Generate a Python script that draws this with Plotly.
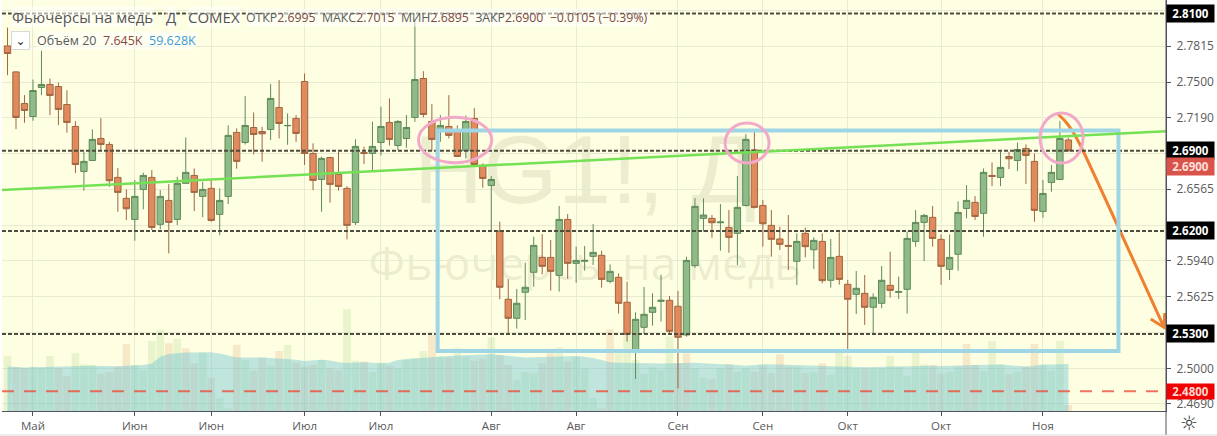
import plotly.graph_objects as go

bar_index = list(range(126))
open_prices = [
2.7817,2.7590,2.7314,2.7200,2.7454,2.7480,2.7462,2.7305,2.7113,2.6720,
2.6816,2.7008,2.6956,2.6668,2.6485,2.6301,2.6563,2.6668,2.6258,2.6467,
2.6301,2.6616,2.6685,2.6502,2.6572,2.6345,2.6502,2.7061,2.6973,2.7104,
2.7069,2.7087,2.7279,2.7119,2.7183,2.7506,2.6877,2.6650,2.6842,2.6694,
2.6572,2.6275,2.6886,2.6877,2.6973,2.7148,2.6947,2.7008,2.7192,2.7532,
2.7157,2.7069,2.7113,2.7069,2.6901,2.7183,2.6773,2.6598,2.6199,2.5603,
2.5437,2.5664,2.5839,2.5969,2.5969,2.5812,2.6301,2.5917,2.5935,2.5978,
2.5987,2.5760,2.5795,2.5577,2.5155,2.5358,2.5489,2.5585,2.5594,2.5542,
2.5291,2.5897,2.6310,2.6310,2.6272,2.6231,2.6179,2.6423,2.6909,2.6423,
2.6249,2.6130,2.6074,2.5935,2.6179,2.6036,2.6109,2.5769,2.5978,2.5734,
2.5646,2.5655,2.5533,2.5568,2.5725,2.5664,2.5690,2.6109,2.6275,2.6319,
2.6127,2.5865,2.5996,2.6397,2.6450,2.6354,2.6685,2.6668,2.6851,2.6816,
2.6921,2.6808,2.6371,2.6624,2.6650,2.6995]
close_prices = [
2.7750,2.7192,2.7253,2.7427,2.7480,2.7384,2.7262,2.7148,2.6781,2.6808,
2.7000,2.6956,2.6639,2.6537,2.6394,2.6502,2.6685,2.6231,2.6502,2.6275,
2.6616,2.6712,2.6537,2.6563,2.6292,2.6467,2.7035,2.6808,2.7122,2.7043,
2.7049,2.7358,2.7139,2.7122,2.7052,2.6877,2.6642,2.6834,2.6607,2.6589,
2.6249,2.6939,2.6877,2.6939,2.7113,2.7000,2.7157,2.7104,2.7523,2.7218,
2.7000,2.7122,2.7035,2.6851,2.7157,2.6781,2.6659,2.6650,2.5708,2.5437,
2.5568,2.5708,2.6074,2.5891,2.5847,2.6301,2.5917,2.5943,2.5943,2.6013,
2.5777,2.5847,2.5568,2.5297,2.5428,2.5472,2.5533,2.5594,2.5323,2.5271,
2.5943,2.6415,2.6339,2.6272,2.6278,2.6144,2.6406,2.7000,2.6406,2.6263,
2.6127,2.6083,2.6066,2.6109,2.6063,2.6118,2.5766,2.5969,2.5777,2.5603,
2.5699,2.5533,2.5620,2.5769,2.5681,2.5670,2.6135,2.6275,2.6336,2.6135,
2.5891,2.5969,2.6362,2.6467,2.6327,2.6712,2.6677,2.6755,2.6831,2.6912,
2.6860,2.6380,2.6528,2.6712,2.7008,2.6900]
high_prices = [
2.7977,2.7595,2.7387,2.7523,2.7774,2.7532,2.7497,2.7430,2.7160,2.6892,
2.7087,2.7186,2.6979,2.6749,2.6563,2.6645,2.6709,2.6732,2.6557,2.6610,
2.6674,2.7017,2.6746,2.6630,2.6645,2.6572,2.7122,2.7096,2.7378,2.7235,
2.7110,2.7483,2.7518,2.7227,2.7212,2.7576,2.6965,2.6848,2.6848,2.6892,
2.6592,2.7000,2.6936,2.7154,2.7285,2.7358,2.7168,2.7212,2.8041,2.7596,
2.7308,2.7212,2.7387,2.7122,2.7209,2.7273,2.6790,2.6680,2.6281,2.5780,
2.5693,2.5923,2.6150,2.6173,2.6121,2.6418,2.6348,2.6063,2.6068,2.6260,
2.6028,2.5908,2.5830,2.5757,2.5489,2.5710,2.5655,2.5818,2.5632,2.5676,
2.5975,2.6487,2.6485,2.6339,2.6435,2.6383,2.6680,2.7046,2.7067,2.6470,
2.6383,2.6237,2.6339,2.6179,2.6231,2.6144,2.6179,2.6130,2.6188,2.5772,
2.5850,2.5815,2.5655,2.5894,2.6019,2.5801,2.6194,2.6383,2.6348,2.6418,
2.6170,2.6170,2.6458,2.6601,2.6505,2.6746,2.6799,2.6907,2.6892,2.6973,
2.6956,2.6877,2.6645,2.6776,2.7160,2.7015]
low_prices = [
2.7561,2.7090,2.7145,2.7163,2.7387,2.7212,2.7125,2.7058,2.6706,2.6552,
2.6811,2.6907,2.6586,2.6368,2.6295,2.6115,2.6389,2.6208,2.6214,2.6004,
2.6252,2.6610,2.6374,2.6319,2.6281,2.6162,2.6435,2.6744,2.6956,2.6869,
2.6805,2.6994,2.7008,2.6953,2.6979,2.6776,2.6557,2.6368,2.6447,2.6552,
2.6127,2.6252,2.6784,2.6723,2.6860,2.6947,2.6907,2.6927,2.7154,2.7192,
2.6901,2.6979,2.7008,2.6845,2.6834,2.6761,2.6578,2.6208,2.5603,2.5291,
2.5347,2.5422,2.5713,2.5821,2.5678,2.5670,2.5783,2.5748,2.5853,2.5903,
2.5705,2.5743,2.5478,2.5233,2.4907,2.5300,2.5373,2.5408,2.5306,2.4826,
2.5277,2.5879,2.6194,2.6141,2.6028,2.6010,2.5903,2.6412,2.6397,2.6063,
2.5975,2.6034,2.5859,2.5728,2.5969,2.5868,2.5743,2.5705,2.5731,2.5160,
2.5475,2.5379,2.5306,2.5524,2.5617,2.5606,2.5478,2.6063,2.5937,2.6063,
2.5728,2.5772,2.5853,2.6310,2.6295,2.6150,2.6592,2.6592,2.6741,2.6723,
2.6610,2.6281,2.6316,2.6543,2.6645,2.6895]
volume_k = [
69.8,55.4,54.1,56.3,54.1,69.8,54.1,44.4,73.2,59.2,
58.4,47.0,49.9,56.3,85.0,58.4,52.0,88.8,102.8,85.9,
91.4,79.5,60.5,74.0,41.5,16.1,3.4,83.8,64.7,51.2,
66.8,57.5,76.1,83.8,61.3,56.3,58.4,64.7,54.1,52.0,
129.0,63.9,62.6,49.5,61.3,57.5,54.1,64.7,66.8,76.1,
96.4,68.9,68.1,79.5,68.9,63.5,66.4,93.1,71.1,58.4,
39.3,49.1,47.8,60.5,73.2,80.4,62.6,68.9,54.1,16.1,
3.4,103.6,73.2,96.4,64.7,47.0,55.4,52.0,94.3,60.5,
73.2,54.1,42.3,40.2,54.1,59.6,49.9,54.1,49.9,57.5,
47.8,71.9,56.3,56.3,47.8,49.1,60.5,45.7,74.0,69.8,
54.1,54.1,54.1,54.1,69.8,56.3,44.8,74.0,59.2,58.4,
47.0,49.9,56.3,85.0,58.4,51.2,88.8,59.2,47.0,49.9,
56.3,85.0,58.4,51.2,88.8,7.645]
volume_dir = [
"u","d","d","u","u","u","d","d","u","u",
"u","d","d","d","d","u","u","u","u","d",
"u","d","d","u","d","u","u","d","u","d",
"d","u","d","u","d","d","d","u","d","d",
"u","u","d","u","u","d","u","u","u","u",
"d","u","d","u","u","d","d","u","d","d",
"u","u","u","d","d","u","d","u","u","u",
"d","d","u","u","u","u","u","u","u","d",
"d","u","u","d","u","d","u","u","d","d",
"d","d","d","u","d","u","d","u","u","u",
"u","d","u","u","u","u","u","u","u","d",
"d","u","u","d","d","u","u","u","d","u",
"d","d","u","u","u","d"]
volume_ma_k = [
56.3,55.4,55.0,55.4,55.8,56.3,56.3,56.7,57.1,57.5,
57.5,57.1,56.7,56.7,57.5,58.0,58.4,60.1,68.9,72.3,
73.6,74.0,74.0,74.4,74.4,72.8,70.2,67.7,67.7,68.1,
68.1,67.3,66.8,66.4,65.1,63.5,63.9,65.1,63.9,61.8,
60.9,61.8,61.8,61.3,60.5,61.3,64.7,66.0,66.8,68.1,
68.9,69.8,69.8,70.2,70.6,71.1,71.5,71.9,71.1,69.8,
68.1,67.7,68.1,68.5,68.9,69.4,69.8,69.8,68.9,67.3,
64.7,61.8,61.3,60.9,60.9,60.5,60.5,60.1,60.5,60.9,
61.8,61.3,60.5,60.1,59.6,59.2,58.4,57.5,58.8,59.2,
59.2,58.8,58.4,58.0,57.5,57.1,57.1,56.7,56.3,56.3,
55.8,55.4,55.8,56.3,56.3,56.3,56.7,57.1,57.5,57.5,
57.1,57.1,57.5,58.0,58.4,58.8,59.2,58.8,58.0,57.1,
56.3,57.5,58.8,58.8,59.2,59.628]

time_ticks = [3, 15, 24, 35, 44, 57, 67, 79, 89, 99, 110, 122]
time_labels = ["Май","Июн","Июн","Июл","Июл","Авг","Авг","Сен","Сен","Окт","Окт","Ноя"]
price_ticks = [2.813,2.7815,2.75,2.719,2.6875,2.6565,2.625,2.594,2.5625,2.531,2.5,2.469]
price_labels = ["","2.7815","2.7500","2.7190","","2.6565","","2.5940","2.5625","","2.5000","2.4690"]
level_prices = [2.81, 2.69, 2.62, 2.53]
stop_price = 2.48

trend_x = [-0.65, 136.5]
trend_y = [2.6558, 2.7071]
box_x = [50.68, 130.9]
box_y = [2.5151, 2.7078]
ellipses = [(48.42, 57.06, 2.6796, 2.7193), (84.55, 89.73, 2.6794, 2.7143), (121.66, 126.73, 2.6794, 2.7231)]
arrow_x = [123.78, 124.6, 125.4, 126.57, 136.27]
arrow_y = [2.7222, 2.7161, 2.7082, 2.6925, 2.5357]
arrow_head_x = [134.7, 136.27, 136.35]
arrow_head_y = [2.5431, 2.5357, 2.5483]

W, H = 1217, 436
L, R, B = 2, 1166, 411
FONT = "Open Sans"
GREY = "#5a5a5a"

def px(x):
    return (x - L) / (R - L)

def py(y):
    return (B - y) / B

fig = go.Figure()
fig.add_trace(go.Bar(
    x=bar_index, y=volume_k, yaxis="y", showlegend=False, hoverinfo="skip",
    marker=dict(color=["rgba(150,200,120,0.2)" if d == "u" else "rgba(215,150,100,0.2)" for d in volume_dir],
                line_width=0),
))
fig.add_trace(go.Scatter(
    x=bar_index, y=volume_ma_k, yaxis="y", mode="lines", line=dict(width=0, color="rgba(0,0,0,0)"),
    fill="tozeroy", fillcolor="rgba(105,195,215,0.42)", showlegend=False, hoverinfo="skip",
))
fig.add_trace(go.Candlestick(
    x=bar_index, open=open_prices, high=high_prices, low=low_prices, close=close_prices, yaxis="y2",
    whiskerwidth=0, showlegend=False, hoverinfo="skip",
    increasing=dict(line=dict(color="#5f8a58", width=1), fillcolor="#8fbb88"),
    decreasing=dict(line=dict(color="#a0663f", width=1), fillcolor="#e08a5e"),
))
fig.add_trace(go.Scatter(x=arrow_x, y=arrow_y, yaxis="y2", mode="lines", showlegend=False, hoverinfo="skip",
                         line=dict(color="#f08030", width=3, shape="spline", smoothing=0.4)))
fig.add_trace(go.Scatter(x=arrow_head_x, y=arrow_head_y, yaxis="y2", mode="lines", showlegend=False, hoverinfo="skip",
                         line=dict(color="#f08030", width=3)))

shapes = []
# watermark, under the candles
for x0, x1, y0, y1, text, size, family in [
    (380, 790, 115, 205, "HG1!, Д", 96, "Liberation Sans"),
    (360, 810, 240, 290, "Фьючерсы на медь", 46, "Open Sans"),
]:
    shapes.append(dict(type="rect", layer="below", xref="paper", yref="paper",
                       x0=px(x0), x1=px(x1), y0=py(y1), y1=py(y0), line=dict(width=0),
                       label=dict(text=text, textposition="middle center",
                                  font=dict(family=family, size=size, color="rgba(140,145,105,0.16)"))))
for p in level_prices:
    shapes.append(dict(type="line", xref="paper", yref="y2", x0=0, x1=1, y0=p, y1=p,
                       line=dict(color="#4e4d3e", width=2, dash="4px,2px")))
shapes.append(dict(type="line", xref="paper", yref="y2", x0=0, x1=1, y0=stop_price, y1=stop_price,
                   line=dict(color="rgba(232,80,60,0.8)", width=2, dash="12px,10px")))
shapes.append(dict(type="rect", xref="x", yref="y2", x0=box_x[0], x1=box_x[1], y0=box_y[0], y1=box_y[1],
                   line=dict(color="#9fd6e6", width=4)))
shapes.append(dict(type="line", xref="x", yref="y2", x0=trend_x[0], x1=trend_x[1], y0=trend_y[0], y1=trend_y[1],
                   line=dict(color="#74e054", width=2.5)))
for x0, x1, y0, y1 in ellipses:
    shapes.append(dict(type="circle", xref="x", yref="y2", x0=x0, x1=x1, y0=y0, y1=y1,
                       line=dict(color="#f2a9c9", width=3)))
# frame of the price and time scales
shapes.append(dict(type="line", xref="paper", yref="paper", x0=1, x1=1, y0=py(435), y1=1,
                   line=dict(color="#50535e", width=1)))
shapes.append(dict(type="line", xref="paper", yref="paper", x0=px(0), x1=px(1217), y0=py(435), y1=py(435),
                   line=dict(color="#d8d8d8", width=1)))

ann = []

def add_text(x, y, text, size, color, anchor="left", family=FONT, **kw):
    ann.append(dict(xref="paper", yref="paper", x=px(x), y=py(y), text=text, showarrow=False,
                    xanchor=anchor, yanchor="middle", font=dict(family=family, size=size, color=color),
                    borderpad=0, **kw))

# level labels on the price scale
for p in level_prices:
    ann.append(dict(xref="paper", yref="y2", x=1, y=p, text="<b>%.4f</b>" % p, showarrow=False, xanchor="left",
                    yanchor="middle", width=47, height=17, bgcolor="#000000", borderpad=0, align="center",
                    font=dict(family=FONT, size=11.5, color="#ffffff")))
ann.append(dict(xref="paper", yref="y2", x=1, y=stop_price, text="<b>%.4f</b>" % stop_price, showarrow=False,
                xanchor="left", yanchor="middle", width=47, height=15, bgcolor="#f00000", borderpad=0, align="center",
                font=dict(family=FONT, size=11.5, color="#ffd8d0")))
ann.append(dict(xref="paper", yref="paper", x=1, y=py(167), text="<b>%.4f</b>" % close_prices[-1], showarrow=False,
                xanchor="left", yanchor="middle", width=47, height=17, bgcolor="#d9534a", borderpad=0, align="center",
                font=dict(family=FONT, size=11.5, color="#ffe0dc")))

# header
VAL = "#7a4a44"
def span(text, color):
    return '<span style="color:%s">%s</span>' % (color, text)

add_text(11, 17, "Фьючерсы на медь", 15, "#555555", bgcolor="rgba(255,255,255,0.55)")
add_text(165, 17, "Д", 15, "#555555", bgcolor="rgba(255,255,255,0.55)")
add_text(187, 17, "COMEX", 15, "#555555", bgcolor="rgba(255,255,255,0.55)")
add_text(245, 18,
         span("ОТКР", GREY) + span("2.6995", VAL) + "  " +
         span("МАКС", GREY) + span("2.7015", VAL) + "  " +
         span("МИН", GREY) + span("2.6895", VAL) + "  " +
         span("ЗАКР", GREY) + span("2.6900", VAL) + "  " +
         span("−0.0105 (−0.39%)", VAL),
         12.3, GREY, bgcolor="rgba(255,255,255,0.55)")
add_text(11, 40, "⌄", 12, "#333333", width=17, height=17, bgcolor="#ffffff", bordercolor="#d8d8d8",
         borderwidth=1, align="center", family="DejaVu Sans")
add_text(36, 40,
         span("Объём 20", GREY) + "  " + span("7.645K", "#8a4a44") + "  " + span("59.628K", "#3a9ad8"),
         12.5, GREY, bgcolor="rgba(255,255,255,0.55)")
add_text(1189, 423, "☼", 20, "#333333", anchor="center", family="DejaVu Sans")

fig.update_layout(
    width=W, height=H, margin=dict(l=L, r=W - R, t=0, b=H - B, pad=0),
    paper_bgcolor="#ffffff", plot_bgcolor="#fefee2", bargap=0.1, boxgap=0.25, boxgroupgap=0, hovermode=False,
    showlegend=False, font=dict(family=FONT, color=GREY, size=11.5),
    xaxis=dict(range=[-0.65, 136.5], tickvals=time_ticks, ticktext=time_labels, ticks="outside", ticklen=4,
               tickcolor="#50535e", showline=True, linecolor="#50535e", linewidth=1, showgrid=True,
               gridcolor="#e8ebd2", gridwidth=1, zeroline=False, rangeslider=dict(visible=False),
               tickfont=dict(family=FONT, size=11.5, color=GREY)),
    yaxis=dict(range=[0, 521], visible=False, fixedrange=True),
    yaxis2=dict(range=[2.4627, 2.8218], overlaying="y", side="right", anchor="x", tickvals=price_ticks,
                ticktext=price_labels, ticks="outside", ticklen=4, tickcolor="#50535e", showline=True,
                linecolor="#50535e", linewidth=1, showgrid=True, gridcolor="#e8ebd2", gridwidth=1, zeroline=False,
                ticklabelstandoff=3, tickfont=dict(family=FONT, size=12, color=GREY)),
    shapes=shapes, annotations=ann,
)

fig.write_html("out.html", config=dict(displayModeBar=False),
               post_script="document.body.style.margin='0';document.body.style.overflow='hidden';")
